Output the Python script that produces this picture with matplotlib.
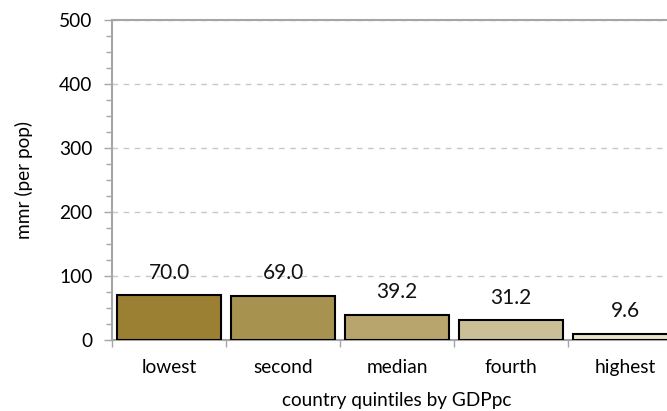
import matplotlib.pyplot as plt
from matplotlib.ticker import MultipleLocator

plt.rcParams["font.family"] = ["Lato", "DejaVu Sans"]

quintiles = ["lowest", "second", "median", "fourth", "highest"]
mmr = [70.0, 69.0, 39.2, 31.2, 9.6]
bar_colors = ["#9b7f33", "#a8924f", "#b8a46d", "#cbbf98", "#e9e2cc"]

fig = plt.figure(figsize=(6.67, 4.11), dpi=100)
# the last category runs a little past the right edge of the figure
ax = fig.add_axes([0.168, 0.1727, 0.8546, 0.7786])

x = list(range(len(quintiles)))
bars = ax.bar(x, mmr, width=0.91, color=bar_colors, edgecolor="black", linewidth=1.5, zorder=3)

for rect, val in zip(bars, mmr):
    ax.annotate(f"{val:.1f}", (rect.get_x() + rect.get_width() / 2, val),
                xytext=(0, 9), textcoords="offset points",
                ha="center", va="bottom", fontsize=15, color="#111111")

ax.set_xlim(-0.5, len(quintiles) - 0.5)
ax.set_ylim(0, 500)
ax.yaxis.set_major_locator(MultipleLocator(100))
ax.yaxis.set_minor_locator(MultipleLocator(25))
ax.set_xticks(x)
ax.set_xticklabels(quintiles)
ax.set_xticks([i - 0.5 for i in range(len(quintiles) + 1)], minor=True)
ax.tick_params(axis="x", which="major", length=0, pad=14, labelsize=13.8)
ax.tick_params(axis="x", which="minor", length=5, color="#a6a6a6", width=1)
ax.tick_params(axis="y", which="major", length=6, color="#a6a6a6", width=1, labelsize=13.8, pad=8)
ax.tick_params(axis="y", which="minor", length=4, color="#a6a6a6", width=1)

ax.grid(axis="y", which="major", linestyle=(0, (4, 4)), color="#c8c8c8", linewidth=1, zorder=0)

for side in ["left", "bottom", "top"]:
    ax.spines[side].set_color("#a6a6a6")
    ax.spines[side].set_linewidth(1.5)
ax.spines["right"].set_visible(False)

ax.set_xlabel("country quintiles by GDPpc", fontsize=13.7, labelpad=11)
ax.set_ylabel("mmr (per pop)", fontsize=13.7, labelpad=19)

fig.savefig("out.png", dpi=100)
